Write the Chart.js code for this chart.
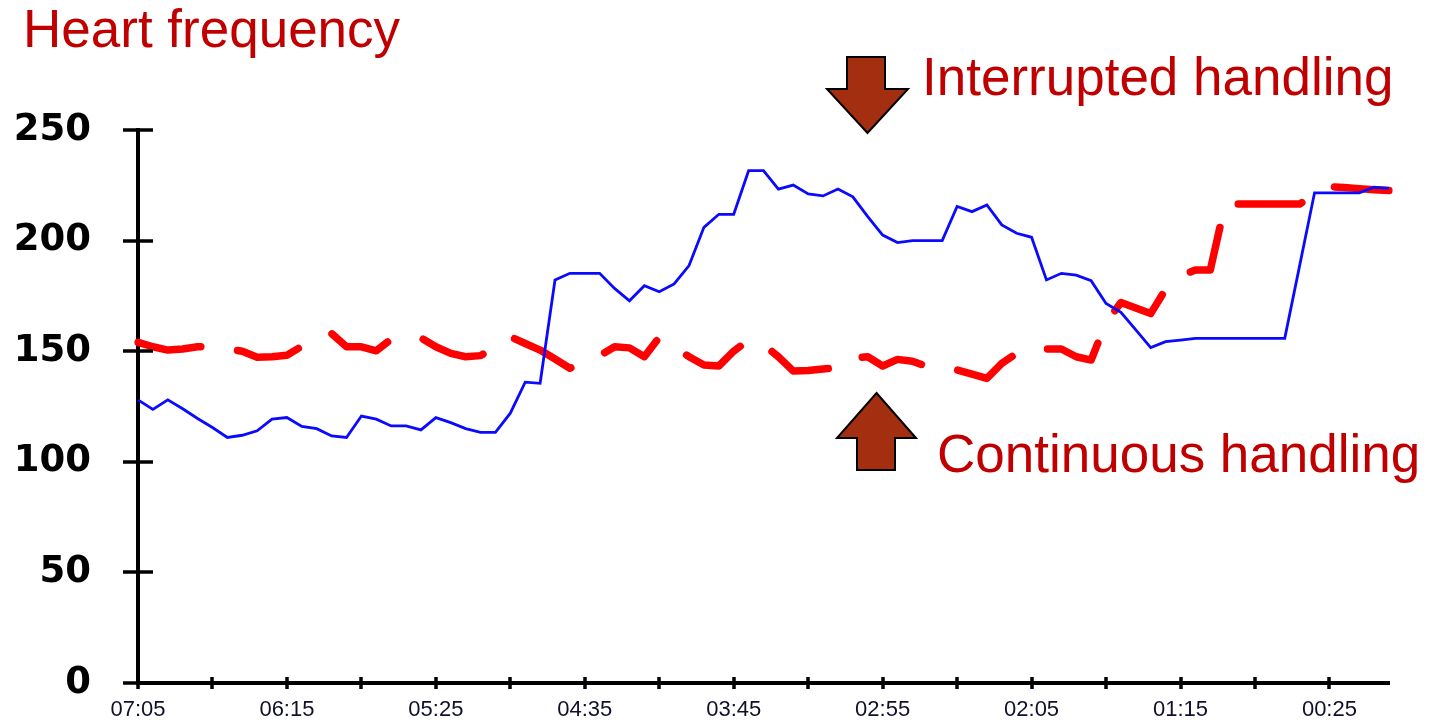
<!DOCTYPE html>
<html>
<head>
<meta charset="utf-8">
<script src="https://cdn.jsdelivr.net/npm/chart.js@4"></script>
<style>
  html, body { margin: 0; padding: 0; background: #fff; }
  #wrap { position: relative; width: 1430px; height: 724px; overflow: hidden; }
  #c { position: absolute; left: 0; top: 0; }
  #overlay { position: absolute; left: 0; top: 0; pointer-events: none; }
</style>
</head>
<body>
<div id="wrap">
  <canvas id="c" width="1430" height="724"></canvas>
  <svg id="overlay" width="1430" height="724" xmlns="http://www.w3.org/2000/svg">
    <text x="23" y="47" font-family="'Liberation Sans', Arial, sans-serif" font-size="53" fill="#C00000">Heart frequency</text>
    <text x="922" y="95" font-family="'Liberation Sans', Arial, sans-serif" font-size="53" fill="#C00000">Interrupted handling</text>
    <text x="937" y="472" font-family="'Liberation Sans', Arial, sans-serif" font-size="53" fill="#C00000">Continuous handling</text>
    <polygon points="847,57 885,57 885,89 908,89 867.5,133 827,89 847,89" fill="#A32E10" stroke="#000" stroke-width="2" stroke-linejoin="miter"/>
    <polygon points="876.5,393 916,438 895,438 895,470 857,470 857,438 837,438" fill="#A32E10" stroke="#000" stroke-width="2" stroke-linejoin="miter"/>
  </svg>
</div>
<script>
const categories = ['07:05','07:00','06:55','06:50','06:45','06:40','06:35','06:30','06:25','06:20',
  '06:15','06:10','06:05','06:00','05:55','05:50','05:45','05:40','05:35','05:30',
  '05:25','05:20','05:15','05:10','05:05','05:00','04:55','04:50','04:45','04:40',
  '04:35','04:30','04:25','04:20','04:15','04:10','04:05','04:00','03:55','03:50',
  '03:45','03:40','03:35','03:30','03:25','03:20','03:15','03:10','03:05','03:00',
  '02:55','02:50','02:45','02:40','02:35','02:30','02:25','02:20','02:15','02:10',
  '02:05','02:00','01:55','01:50','01:45','01:40','01:35','01:30','01:25','01:20',
  '01:15','01:10','01:05','01:00','00:55','00:50','00:45','00:40','00:35','00:30',
  '00:25','00:20','00:15','00:10','00:05'];

const tickLabels = ['07:05','06:15','05:25','04:35','03:45','02:55','02:05','01:15','00:25'];
const minorTickLabels = ['06:40','05:50','05:00','04:10','03:20','02:30','01:40','00:50'];

const interruptedHandling = [128,123.7,128,124,119.6,115.5,111,112,114,119.3,
  120,116,115,111.7,111,120.7,119.3,116.2,116.2,114.4,
  120,117.7,115,113.3,113.3,122,136,135.5,182.2,185.2,
  185.2,185.2,178.4,172.8,179.6,176.9,180.4,188.7,206,211.9,
  211.9,231.6,231.6,223.3,225.1,221.1,220.2,223.3,219.8,210.8,
  202.5,199.1,200,200,200,215.4,213.1,216.1,207.1,203.3,
  201.5,182.2,185.2,184.4,181.9,171.6,167.6,159.6,151.6,154.3,
  155,155.8,155.8,155.8,155.8,155.8,155.8,155.8,188.7,221.6,
  221.6,221.6,221.6,224.1,223.6];

const continuousHandling = [154,152,150.5,151,152,152,151,150,147.3,147.5,
  148.2,152.2,155,158,152,152,150.2,155.4,156,156,
  152,149,147.5,148,152,156.5,153.5,150.5,146.5,142.3,
  145,148,152,151.5,147.5,156.3,152,147.5,143.8,143.3,
  150,155,153,147.5,141,141.3,142,142.5,147,147.5,
  143.3,146.3,145.5,143,143,141.5,139.6,137.7,144.5,149,
  149,151,151,147.5,146,163,172,169.5,167,178,
  184,186.7,186.7,216.5,216.5,216.5,216.5,216.5,216.5,221,
  224.4,224,223.5,223,222.6];

const yTicks = [0, 50, 100, 150, 200, 250];

const crossTicks = {
  id: 'crossTicks',
  afterDraw(chart) {
    const ctx = chart.ctx;
    const xs = chart.scales.x, ys = chart.scales.y;
    const left = chart.chartArea.left, bottom = chart.chartArea.bottom;
    ctx.save();
    ctx.strokeStyle = '#000';
    ctx.lineCap = 'butt';
    ctx.lineWidth = 3.5;
    yTicks.forEach(v => {
      const y = Math.round(ys.getPixelForValue(v));
      ctx.beginPath();
      ctx.moveTo(left - 15, y);
      ctx.lineTo(left + 15, y);
      ctx.stroke();
    });
    categories.forEach((c, i) => {
      if (tickLabels.includes(c) || minorTickLabels.includes(c)) {
        const x = Math.round(xs.getPixelForValue(i));
        ctx.beginPath();
        ctx.moveTo(x, bottom - 6);
        ctx.lineTo(x, bottom + 6);
        ctx.stroke();
      }
    });
    ctx.restore();
  }
};

new Chart(document.getElementById('c'), {
  type: 'line',
  data: {
    labels: categories,
    datasets: [
      {
        label: 'Interrupted handling',
        data: interruptedHandling,
        borderColor: '#0a0aff',
        borderWidth: 2.8,
        pointRadius: 0,
        tension: 0,
        fill: false
      },
      {
        label: 'Continuous handling',
        data: continuousHandling,
        borderColor: '#ff0000',
        borderWidth: 7.5,
        borderDash: [64, 37],
        borderCapStyle: 'round',
        borderJoinStyle: 'round',
        pointRadius: 0,
        tension: 0,
        fill: false
      }
    ]
  },
  options: {
    responsive: false,
    animation: false,
    devicePixelRatio: 1,
    layout: { padding: { left: 0, right: 41, top: 130, bottom: 0 } },
    plugins: { legend: { display: false }, tooltip: { enabled: false } },
    scales: {
      x: {
        type: 'category',
        offset: false,
        grid: { display: false, drawTicks: false },
        border: { display: true, color: '#000', width: 4 },
        ticks: {
          autoSkip: false,
          maxRotation: 0,
          minRotation: 0,
          padding: 14,
          color: '#10102a',
          font: { family: "'Liberation Sans', Arial, sans-serif", size: 22 },
          callback: function(value, index) {
            const c = categories[index];
            return tickLabels.includes(c) ? c : null;
          }
        },
        afterFit(scale) { scale.height = 41; }
      },
      y: {
        min: 0,
        max: 250,
        grid: {
          display: true,
          drawOnChartArea: false,
          drawTicks: true,
          tickLength: 47,
          color: 'rgba(0,0,0,0)',
          tickColor: 'rgba(0,0,0,0)'
        },
        border: { display: true, color: '#000', width: 4 },
        ticks: {
          stepSize: 50,
          padding: 0,
          color: '#000',
          font: { family: "'DejaVu Sans', sans-serif", size: 37, weight: 'bold' }
        },
        afterFit(scale) { scale.width = 138; }
      }
    }
  },
  plugins: [crossTicks]
});
</script>
</body>
</html>
